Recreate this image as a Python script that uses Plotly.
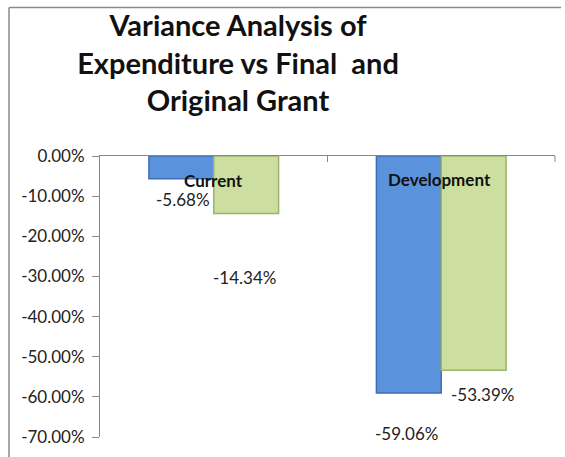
import plotly.graph_objects as go

# ---- data ----
categories = ["Current", "Development"]
var_vs_final = [-5.68, -59.06]      # blue series
var_vs_original = [-14.34, -53.39]  # green series
y_tick_values = [0, -10, -20, -30, -40, -50, -60, -70]
y_tick_labels = ["0.00%", "-10.00%", "-20.00%", "-30.00%", "-40.00%", "-50.00%", "-60.00%", "-70.00%"]
title_text = "Variance Analysis of<br>Expenditure vs Final&nbsp; and<br>Original Grant"

# ---- styles ----
W, H = 565, 457
ML, MR, MT, MB = 100, 10, 156, 17
FONT = "Lato"
BLUE, BLUE_EDGE = "#5A93DC", "#3F6FB5"
GREEN, GREEN_EDGE = "#CDDFA0", "#9CB46A"
AXIS = "#888888"

fig = go.Figure()
fig.add_trace(go.Bar(x=categories, y=var_vs_final, name="vs Final Grant",
                     marker=dict(color=BLUE, line=dict(color=BLUE_EDGE, width=1.5))))
fig.add_trace(go.Bar(x=categories, y=var_vs_original, name="vs Original Grant",
                     marker=dict(color=GREEN, line=dict(color=GREEN_EDGE, width=1.5))))

# data labels (offsets in pixels, mimicking the original label placement)
label_shift = {
    (0, 0): (-31, -21), (0, 1): (-35, -40),
    (1, 0): (31, -64), (1, 1): (41, -24),
}
annotations = []
for s, series in enumerate([var_vs_final, var_vs_original]):
    for c, (cat, v) in enumerate(zip(categories, series)):
        dx, dy = label_shift[(s, c)]
        annotations.append(dict(x=cat, y=v, xref="x", yref="y", text=f"{v:.2f}%",
                                showarrow=False, xshift=dx, yshift=dy,
                                font=dict(family=FONT, size=17, color="#222222")))
# category labels drawn just under the zero line
cat_shift = [(0, -24), (-2, -23)]
for cat, (dx, dy) in zip(categories, cat_shift):
    annotations.append(dict(x=cat, y=0, xref="x", yref="y", text=f"<b>{cat}</b>",
                            showarrow=False, xshift=dx, yshift=dy,
                            font=dict(family=FONT, size=17, color="#111111")))

pw, ph = W - ML - MR, H - MT - MB
def px_x(p):
    return (p - ML) / pw
def px_y(p):
    return (H - MB - p) / ph

shapes = [
    # chart-area frame (left and top edges, cropped in the original)
    dict(type="line", xref="paper", yref="paper", x0=px_x(9), x1=px_x(9), y0=px_y(6), y1=px_y(H + 5),
         line=dict(color="#8a8a8a", width=1.5)),
    dict(type="line", xref="paper", yref="paper", x0=px_x(9), x1=px_x(561), y0=px_y(6), y1=px_y(6),
         line=dict(color="#8a8a8a", width=1.5)),
    # closing tick at the right end of the category axis
    dict(type="line", xref="paper", yref="paper", x0=1, x1=1, y0=1, y1=1 - 6 / ph,
         line=dict(color=AXIS, width=1)),
]

fig.update_layout(
    width=W, height=H,
    margin=dict(l=ML, r=MR, t=MT, b=MB),
    paper_bgcolor="white", plot_bgcolor="white",
    barmode="group", bargap=0.43, bargroupgap=0,
    showlegend=False,
    title=dict(text=f"<b>{title_text}</b>", x=238 / W, xanchor="center", xref="container",
               y=1 - 36 / H, yanchor="middle",
               font=dict(family=FONT, size=29, color="#111111")),
    annotations=annotations,
    shapes=shapes,
    xaxis=dict(side="top", showline=True, linecolor=AXIS, linewidth=1, showticklabels=False,
               ticks="inside", tickson="boundaries", ticklen=6, tickcolor=AXIS, tickwidth=1,
               showgrid=False, zeroline=False),
    yaxis=dict(range=[-70, 0], tickvals=y_tick_values, ticktext=y_tick_labels,
               showline=True, linecolor=AXIS, linewidth=1, ticks="outside", ticklen=7, tickcolor=AXIS,
               ticklabelstandoff=4,
               showgrid=False, zeroline=False,
               tickfont=dict(family=FONT, size=17, color="#222222")),
)

fig.write_html("out.html", config={"displayModeBar": False})
